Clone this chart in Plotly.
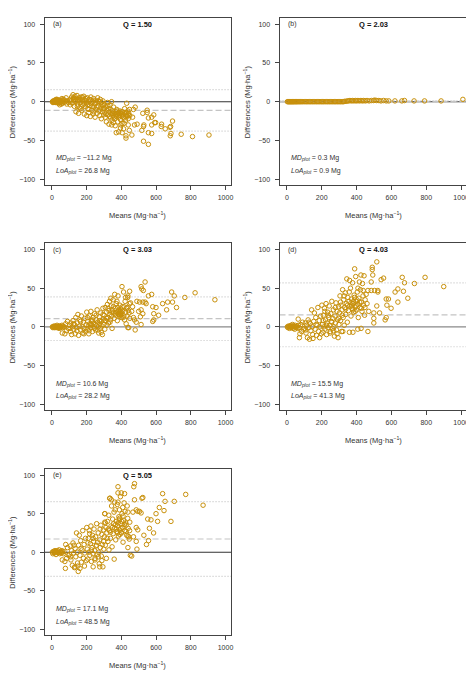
import plotly.graph_objects as go

# ---------------- data ----------------
panel_labels = ["(a)", "(b)", "(c)", "(d)", "(e)"]
q_values = ["1.50", "2.03", "3.03", "4.03", "5.05"]
md_values = [-11.2, 0.3, 10.6, 15.5, 17.1]
loa_values = [26.8, 0.9, 28.2, 41.3, 48.5]

x_ticks = [0, 200, 400, 600, 800, 1000]
y_ticks = [-100, -50, 0, 50, 100]

a_points = [
    (3,0),(6,-1),(8,1),(10,0),(12,-1),(14,1),(16,0),(18,2),(20,-1),(22,0),(24,1),(26,-1),(28,0),(30,2),
    (32,-1),(34,0),(36,1),(38,-2),(40,0),(42,2),(44,-1),(46,1),(48,0),(50,-1),(52,2),(55,0),(58,4),(60,-2),
    (63,1),(66,3),(70,-1),(74,2),(78,0),(82,5),(86,-3),(90,1),(95,-1),(30,3),(45,-4),(55,-3),(25,3),
    (102,2),(106,-4),(110,1),(114,6),(118,-1),(122,9),(126,3),(130,-6),(133,7),(136,0),(139,-13),(142,4),
    (145,8),(148,-3),(151,1),(154,-15),(157,5),(160,-8),(163,2),(166,-1),(169,6),(172,-11),(175,3),(178,-4),
    (181,0),(184,7),(187,-16),(190,2),(193,-6),(196,4),(199,-2),
    (201,-18),(204,5),(207,-9),(210,0),(213,-14),(216,3),(219,-5),(222,-19),(225,6),(228,-2),(231,-11),
    (234,1),(237,-16),(240,4),(243,-7),(246,-3),(249,-20),(252,2),(255,-10),(258,-1),(261,-15),(264,5),
    (267,-6),(270,-12),(273,0),(276,-18),(279,3),(282,-8),(285,-22),(288,-4),(291,-13),(294,1),(297,-9),(299,-17),
    (302,-3),(305,-14),(308,-20),(311,-7),(314,-26),(317,-11),(320,-1),(323,-17),(326,-9),(329,-29),(332,-13),
    (335,-4),(338,-21),(341,-16),(344,0),(347,-24),(350,-12),(353,-18),(356,-7),(359,-15),(362,-22),(365,-31),
    (368,-13),(371,-19),(374,-10),(377,-16),(380,-26),(383,-14),(386,-20),(389,-17),(392,-12),(395,-23),
    (398,-15),(401,-19),(404,-28),(407,-13),(410,-17),(413,-35),(416,-21),(419,-9),(422,-16),(425,-24),
    (428,-14),(431,-2),(434,-19),(437,-12),(440,-22),(443,-15),(446,-37),(449,-18),
    (371,-40),(385,-39),(427,-44),(427,-47),(461,-43),(398,-30),(415,-28),(440,-30),
    (476,-30),(480,-7),(491,-29),(518,-37),(524,-15),(528,-51),(530,-30),(528,-32),(549,-14),(549,-11),
    (556,-21),(556,-40),(556,-55),(575,-20),(575,-30),(575,-41),(587,-17),(592,-27),(598,-27),(465,-20),(470,-10),
    (632,-29),(630,-32),(653,-35),(684,-32),(695,-25),(680,-33),(686,-41),(682,-44),(745,-42),(810,-45),(905,-43),
    (108,3),(117,-2),(127,5),(137,2),(147,-6),(156,3),(167,-9),(176,6),(186,-3),(197,1),(206,-4),(214,-10),
    (223,2),(233,-6),(242,-13),(251,-2),(259,-7),(268,1),(277,-11),(286,-1),(296,-5),(304,-9),(313,-16),
    (322,-5),(331,-19),(340,-10),(349,-15),(358,-20),(367,-17),(376,-12),(384,-18),(393,-15),(402,-13),
    (411,-20),(420,-14),(429,-18),(438,-17),(447,-10),(355,-27),(395,-34),(345,-30),(405,-40),
]

b_points = [
    (3,0),(8,0),(12,0),(16,0),(20,0),(24,0),(28,0),(32,0),(36,0),(40,0),(45,0),(50,0),(55,0),(60,0),(66,0),
    (72,0),(78,0),(85,0),(92,0),(100,0),(108,0),(115,0),(122,0),(130,0),(137,0),(145,0),(152,0),(160,0),
    (168,0),(175,0),(183,0),(190,0),(198,0),(205,0),(212,0),(220,0),(228,0),(235,0),(243,0),(250,0),(258,0),
    (265,0),(273,0),(280,0),(288,0),(295,0),(303,0),(310,0),(318,0),(325,0),(332,0.5),(340,0.5),(348,1),
    (355,1),(362,1.5),(370,1),(378,1.5),(385,1),(393,1.5),(400,1),(408,1.5),(416,1),(425,1.5),(433,1),
    (441,1.5),(450,1),(460,1.5),(472,1),(485,1.5),(497,1.5),(505,2),(515,1.5),(528,1.5),(540,1),(555,1.5),
    (570,1),(585,1),(620,1),(660,1),(675,1.5),(730,1),(790,1),(885,1),(1010,3),
]

c_points = [
    (3,0),(6,-1),(9,0),(12,1),(15,-1),(18,0),(21,1),(24,-1),(27,0),(30,2),(33,-1),(36,0),(39,1),(42,-2),
    (45,0),(48,1),(51,-1),(54,0),(58,2),(62,-1),(66,1),(70,0),(75,-9),(80,4),(85,-5),(90,7),(95,-2),(60,-8),
    (102,2),(106,-6),(110,5),(114,-10),(118,0),(122,8),(126,-3),(130,3),(134,-9),(138,12),(142,-1),(146,5),
    (150,16),(154,-11),(158,1),(162,9),(166,-4),(170,14),(174,0),(178,-8),(182,6),(186,-2),(190,11),(194,-6),(198,3),
    (201,19),(204,-3),(207,7),(210,1),(213,-9),(216,14),(219,4),(222,-1),(225,20),(228,8),(231,2),(234,-6),
    (237,12),(240,5),(243,0),(246,17),(249,3),(252,-4),(255,9),(258,2),(261,22),(264,6),(267,0),(270,-8),
    (273,13),(276,4),(279,-2),(282,18),(285,7),(288,1),(291,-10),(294,24),(297,10),(299,3),
    (302,15),(305,-3),(308,25),(311,8),(314,19),(317,2),(320,29),(323,12),(326,5),(329,21),(332,33),(335,16),
    (338,9),(341,27),(344,14),(347,-2),(350,22),(353,35),(356,18),(359,11),(362,42),(365,24),(368,15),(371,30),
    (374,19),(377,8),(380,25),(383,17),(386,21),(389,14),(392,28),(395,18),(398,23),(401,16),(404,52),(407,20),
    (410,12),(413,45),(416,26),(419,9),(422,33),(425,19),(428,4),(431,24),(434,14),(437,38),(440,21),(443,-1),
    (446,30),(449,11),
    (381,40),(438,40),(448,46),(453,31),(438,-1),(476,9),(480,-4),(486,6),(505,32),(510,13),(514,3),(514,22),
    (524,17),(514,52),(518,49),(527,47),(537,58),(537,32),(524,32),(543,30),(556,40),(575,42),(581,26),
    (600,25),(587,17),(615,15),(587,9),(581,7),(638,30),(667,32),(690,45),(705,40),(695,32),(718,25),(661,22),
    (766,38),(825,44),(939,35),(460,20),(470,12),(490,33),(500,20),(465,26),
    (105,-2),(125,4),(145,-5),(165,7),(185,-9),(205,12),(215,-5),(225,3),(235,9),(245,-2),(255,15),(265,-4),
    (275,8),(285,-7),(295,16),(305,8),(315,11),(325,24),(335,6),(345,19),(355,26),(365,17),(375,33),(385,16),
    (395,20),(405,26),(415,14),(425,38),(435,25),(445,18),(390,19),(395,15),(385,22),(400,12),(340,37),
]

d_points = [
    (3,0),(6,-1),(9,1),(12,0),(15,-2),(18,1),(21,0),(24,2),(27,-1),(30,0),(33,3),(36,-2),(39,1),(42,0),
    (45,-3),(48,2),(51,0),(54,-1),(58,1),(62,-2),(66,2),(70,-1),(75,-9),(80,3),(85,-6),(72,-14),(90,6),(95,-3),(65,10),
    (102,-2),(106,5),(110,-8),(114,2),(118,-14),(122,9),(126,-1),(130,-16),(134,4),(138,-5),(142,22),(146,0),
    (150,-15),(154,7),(158,18),(162,-3),(166,12),(170,-11),(174,2),(178,25),(182,-6),(186,8),(190,0),(194,14),(198,-9),
    (201,28),(204,3),(207,-7),(210,15),(213,0),(216,24),(219,-3),(222,9),(225,30),(228,-10),(231,5),(234,19),
    (237,-1),(240,12),(243,27),(246,2),(249,-6),(252,17),(255,7),(258,33),(261,-2),(264,11),(267,22),(270,0),
    (273,-12),(276,14),(279,5),(282,31),(285,-4),(288,20),(291,9),(294,-14),(297,26),(299,3),
    (302,18),(305,40),(308,8),(311,28),(314,-6),(317,22),(320,48),(323,12),(326,35),(329,2),(332,25),(335,44),
    (338,16),(341,30),(344,62),(347,6),(350,38),(353,21),(356,33),(359,-7),(362,27),(365,50),(368,14),(371,36),
    (374,24),(377,57),(380,30),(383,19),(386,41),(389,75),(392,26),(395,65),(398,33),(401,22),(404,45),(407,29),
    (410,12),(413,37),(416,58),(419,25),(422,48),(425,67),(428,32),(431,20),(434,56),(437,40),(440,28),(443,66),
    (446,15),(449,35),
    (407,-3),(426,-2),(465,-6),(379,-7),(321,-6),(360,60),(465,47),(484,47),(484,58),(490,74),(490,77),
    (493,67),(499,18),(499,11),(499,5),(503,47),(516,84),(516,27),(522,47),(522,45),(532,18),(541,61),(555,63),
    (564,9),(570,12),(570,36),(574,28),(583,36),(598,24),(621,45),(637,49),(637,32),(662,64),(669,46),(675,57),
    (694,37),(732,56),(793,64),(900,52),(460,30),(470,20),(455,42),
    (108,-4),(128,6),(148,-10),(168,3),(188,-14),(208,8),(218,20),(228,2),(238,15),(248,-8),(258,6),(268,-5),
    (278,25),(288,-9),(298,11),(308,32),(318,15),(328,40),(338,23),(348,28),(358,45),(368,31),(378,22),(388,38),
    (398,27),(408,50),(418,32),(428,24),(438,47),(448,25),(372,27),(382,33),(392,20),(402,35),
]

e_points = [
    (3,0),(6,-2),(9,1),(12,0),(15,-1),(18,2),(21,0),(24,-3),(27,1),(30,0),(33,2),(36,-1),(39,0),(42,3),
    (45,-2),(48,0),(51,1),(54,-1),(58,2),(62,0),(66,-2),(70,1),(75,-12),(80,10),(85,-8),(78,-21),(90,6),(95,-4),(60,-10),
    (102,-3),(106,8),(110,-10),(114,2),(118,-17),(122,12),(126,-1),(130,-20),(134,5),(138,-6),(142,25),(146,0),
    (150,-18),(154,9),(158,22),(162,-4),(166,15),(170,-13),(174,3),(178,28),(182,-8),(186,10),(190,-1),(194,18),
    (198,-11),(152,-25),(162,-21),(133,-19),
    (201,32),(204,4),(207,-9),(210,18),(213,0),(216,28),(219,-4),(222,11),(225,34),(228,-12),(231,6),(234,22),
    (237,-2),(240,14),(243,30),(246,2),(249,-8),(252,20),(255,8),(258,37),(261,-3),(264,13),(267,25),(270,0),
    (273,-15),(276,16),(279,6),(282,35),(285,-5),(288,23),(291,10),(294,-19),(297,29),(299,4),(238,-19),(276,-19),
    (302,20),(305,50),(308,9),(311,32),(314,-8),(317,25),(320,40),(323,14),(326,30),(329,3),(332,28),(335,70),
    (338,18),(341,34),(344,60),(347,7),(350,43),(353,24),(356,37),(359,-9),(362,31),(365,55),(368,16),(371,40),
    (374,27),(377,62),(380,34),(383,21),(386,46),(389,55),(392,29),(395,72),(398,37),(401,25),(404,50),(407,32),
    (410,13),(413,41),(416,64),(419,28),(422,53),(425,38),(428,35),(431,22),(434,60),(437,44),(440,31),(443,20),
    (446,17),(449,39),
    (476,89),(472,85),(381,85),(400,77),(381,77),(419,76),(333,70),(343,68),(381,65),(362,65),(476,68),(524,71),
    (519,70),(638,76),(652,66),(705,66),(771,75),(871,61),(619,58),(646,54),(609,40),(686,40),(600,50),(552,43),
    (571,42),(562,31),(586,25),(557,15),(545,10),(486,14),(490,4),(486,32),(495,29),(467,52),(486,55),(505,53),
    (514,51),(495,53),(438,21),(438,6),(452,-4),(410,47),(390,44),(305,39),(305,50),(400,26),(460,-5),(470,20),(530,22),
    (108,-6),(128,9),(148,-14),(168,5),(188,-18),(208,12),(218,24),(228,3),(238,18),(248,-10),(258,9),(268,-6),
    (278,30),(288,-11),(298,14),(308,38),(318,18),(328,48),(338,26),(348,32),(358,52),(368,36),(378,25),(388,42),
    (398,31),(408,58),(418,36),(428,27),(438,52),(448,28),(372,30),(382,38),(392,23),(402,40),
]

all_points = [a_points, b_points, c_points, d_points, e_points]

# ---------------- layout (pixel geometry of the reference) ----------------
PAGE_W, PAGE_H = 474, 676
OFF = 8  # default body margin of the html page
W, H = PAGE_W - OFF, PAGE_H - OFF
# (left, top, right, bottom) of each plot box, in page pixels
boxes = [
    (44.7, 18.0, 232.0, 185.0),
    (280.7, 18.0, 468.7, 185.0),
    (44.7, 243.3, 232.0, 410.0),
    (280.7, 243.3, 468.7, 410.0),
    (44.7, 469.0, 232.0, 635.0),
]
zero_colors = ["#333333", "#333333", "#8a8a8a", "#8a8a8a", "#333333"]

PT = "#C8900A"
TXT = "#333333"
FONT = "Liberation Sans, Arial, sans-serif"

def px(x):
    return (x - OFF) / W

def py(y):
    return 1 - (y - OFF) / H

fig = go.Figure()
shapes = []
annotations = []
layout_axes = {}

for i in range(5):
    n = "" if i == 0 else str(i + 1)
    xa, ya = "x" + n, "y" + n
    l, t, r, b = boxes[i]
    pts = all_points[i]
    fig.add_trace(go.Scatter(
        x=[p[0] for p in pts], y=[p[1] for p in pts],
        mode="markers", xaxis=xa, yaxis=ya, showlegend=False,
        marker=dict(symbol="circle-open", size=4.5, color=PT, line=dict(width=1, color=PT)),
        hoverinfo="skip",
    ))
    common = dict(showgrid=False, zeroline=False, showline=True, mirror=True,
                  linecolor="#444444", linewidth=1, ticks="outside", ticklen=4,
                  tickcolor="#444444", tickwidth=1,
                  tickfont=dict(size=7, color=TXT, family=FONT))
    layout_axes["xaxis" + n] = dict(common, domain=[px(l), px(r)], anchor=ya,
                                    range=[-42, 1032], tickvals=x_ticks,
                                    ticklabelstandoff=2)
    layout_axes["yaxis" + n] = dict(common, domain=[py(b), py(t)], anchor=xa,
                                    range=[-107.5, 108], tickvals=y_ticks,
                                    ticklabelstandoff=3)
    md, loa = md_values[i], loa_values[i]
    # zero line, mean-difference line, limits of agreement
    shapes.append(dict(type="line", xref=xa + " domain", yref=ya, x0=0, x1=1, y0=0, y1=0,
                       line=dict(color=zero_colors[i], width=1.1), layer="below"))
    shapes.append(dict(type="line", xref=xa + " domain", yref=ya, x0=0, x1=1, y0=md, y1=md,
                       line=dict(color="#c4c4c4", width=1.2, dash="6px,3px"), layer="below"))
    for lim in (md + loa, md - loa):
        shapes.append(dict(type="line", xref=xa + " domain", yref=ya, x0=0, x1=1, y0=lim, y1=lim,
                           line=dict(color="#c4c4c4", width=1.1, dash="1px,2px"), layer="below"))
    cx = (l + r) / 2
    cy = (t + b) / 2
    ann_font = dict(size=7, color=TXT, family=FONT)
    annotations += [
        dict(x=px(l + 6.5), y=py(t + 6.3), xref="paper", yref="paper", text=panel_labels[i],
             showarrow=False, xanchor="left", yanchor="middle", font=ann_font),
        dict(x=px(cx), y=py(t + 6.3), xref="paper", yref="paper", text="<b>Q = " + q_values[i] + "</b>",
             showarrow=False, xanchor="center", yanchor="middle", font=dict(size=7.5, color="#111", family=FONT)),
        dict(x=px(l + 10), y=py(t + 140.3), xref="paper", yref="paper",
             text="<i>MD<sub>plot</sub></i> = " + ("−" if md < 0 else "") + f"{abs(md):.1f} Mg",
             showarrow=False, xanchor="left", yanchor="middle", font=ann_font),
        dict(x=px(l + 10), y=py(t + 152.7), xref="paper", yref="paper",
             text="<i>LoA<sub>plot</sub></i> = " + f"{loa:.1f} Mg",
             showarrow=False, xanchor="left", yanchor="middle", font=ann_font),
        dict(x=px(cx), y=py(b + 30), xref="paper", yref="paper",
             text="Means (Mg·ha<sup>−1</sup>)", showarrow=False, xanchor="center", yanchor="middle",
             font=dict(size=7.5, color=TXT, family=FONT)),
        dict(x=px(l - 33), y=py(cy), xref="paper", yref="paper",
             text="Differences (Mg·ha<sup>−1</sup>)", showarrow=False, textangle=-90,
             xanchor="center", yanchor="middle", font=dict(size=7.5, color=TXT, family=FONT)),
    ]

fig.update_layout(
    width=W, height=H, margin=dict(l=0, r=0, t=0, b=0),
    paper_bgcolor="white", plot_bgcolor="white",
    shapes=shapes, annotations=annotations,
    font=dict(family=FONT, color=TXT),
    **layout_axes,
)

fig.write_html("out.html")
